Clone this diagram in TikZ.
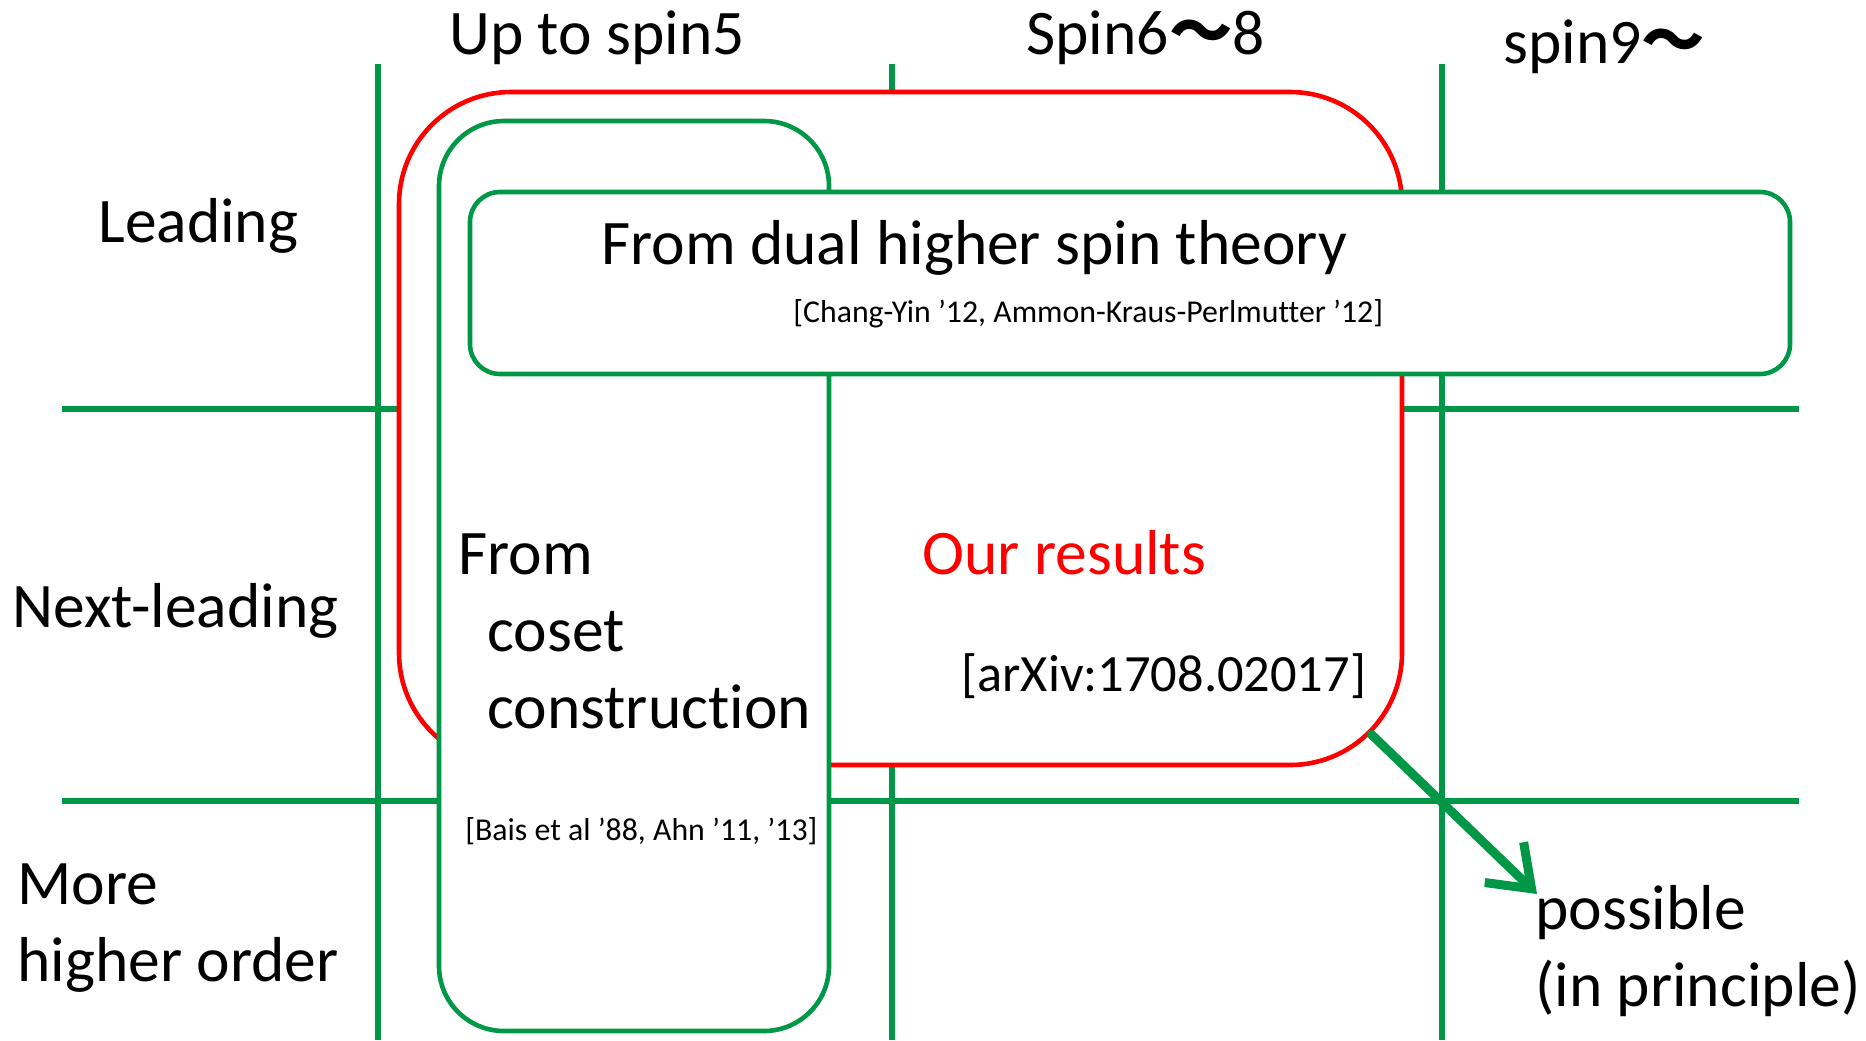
\documentclass[tikz,border=0pt]{standalone}
\usepackage{fontspec}
\setmainfont{Carlito}[Ligatures={NoCommon}]
\newfontfamily\cjkfont{Noto Sans CJK JP}
\usetikzlibrary{arrows.meta}
\definecolor{pgreen}{RGB}{0,152,70}
\definecolor{pred}{RGB}{255,0,0}
\begin{document}
\begin{tikzpicture}[x=0.5pt,y=-0.5pt,
  gridline/.style={draw=pgreen, line width=2.7pt},
  box/.style={line width=2.3pt, fill=white, inner sep=0pt},
  big/.style={font=\fontsize{31.75}{38.5}\selectfont, inner sep=0pt, anchor=base west, align=left},
  mid/.style={font=\fontsize{26.2}{31}\selectfont, inner sep=0pt, anchor=base west},
  small/.style={font=\fontsize{15.9}{19}\selectfont, inner sep=0pt, anchor=base west},
]
\useasboundingbox (0,0) rectangle (1866,1040);
% grid
\coordinate (v1t) at (378,64);  \coordinate (v1b) at (378,1040);
\coordinate (v2t) at (892,64);  \coordinate (v2b) at (892,1040);
\coordinate (v3t) at (1442,64); \coordinate (v3b) at (1442,1040);
\coordinate (h1l) at (62,409);  \coordinate (h1r) at (1799,409);
\coordinate (h2l) at (62,801);  \coordinate (h2r) at (1799,801);
\draw[gridline] (v1t) -- (v1b);
\draw[gridline] (v2t) -- (v2b);
\draw[gridline] (v3t) -- (v3b);
\draw[gridline] (h1l) -- (h1r);
\draw[gridline] (h2l) -- (h2r);
% boxes
\node[box, draw=pred, rounded corners=56pt, minimum width=501.5pt, minimum height=336.5pt] (ours) at (900.5,428.5) {};
\node[box, draw=pgreen, rounded corners=32.5pt, minimum width=195pt, minimum height=455pt] (coset) at (634,576) {};
\node[box, draw=pgreen, rounded corners=15pt, minimum width=660pt, minimum height=91pt] (dual) at (1130,283) {};
% headers
\node[big] (c1) at (449,54) {Up to spin5};
\node[big] (c2) at (1026,54) {Spin6{\cjkfont\bfseries ～}8};
\node[big] (c3) at (1503,63) {spin9{\cjkfont\bfseries ～}};
\node[big] (r1) at (98,242) {Leading};
\node[big] (r2) at (12,627) {Next-leading};
\node[big] (r3) at (17,981) {More\\higher order};
% box texts
\node[big] (dualt) at (601,264) {From dual higher spin theory};
\node[small] (dualr) at (793,322) {[Chang-Yin ’12, Ammon-Kraus-Perlmutter ’12]};
\node[big] (cosett) at (458,728) {From\\\hspace*{14.5pt}coset\\\hspace*{14.5pt}construction};
\node[small] (cosetr) at (465,840) {[Bais et al ’88, Ahn ’11, ’13]};
\node[big, text=pred] (ourst) at (922,574) {Our results};
\node[mid] (oursr) at (961,691) {[arXiv:1708.02017]};
\node[big] (poss) at (1535,1006) {possible\\(in principle)};
% arrow
\coordinate (astart) at ([shift={(-33,-33)}]ours.south east);
\coordinate (tip) at (1537,894);
\draw[pgreen, line width=4.5pt, line cap=round, -{Straight Barb[length=19pt, width=28pt]}] (astart) -- (tip);
\end{tikzpicture}
\end{document}
